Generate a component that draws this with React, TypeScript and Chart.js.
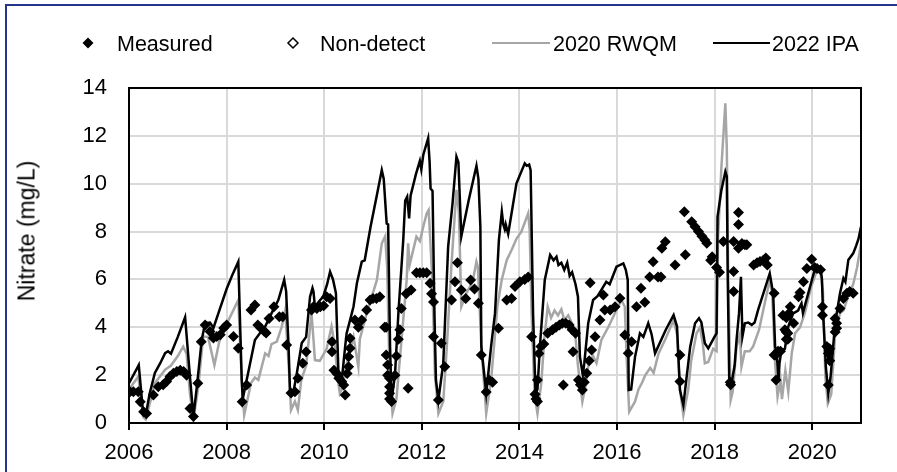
import React, { useEffect, useRef } from 'react';
import { Chart, registerables } from 'chart.js';

Chart.register(...registerables);

// [decimal year, nitrate mg/L]
const ipaSeries: [number, number][] = [
  [2006.0, 1.66], [2006.2, 2.42], [2006.29, 0.4], [2006.34, 0.27], [2006.42, 1.2], [2006.53, 2.09], [2006.64, 2.5], [2006.74, 2.92], [2006.8, 3.0], [2006.86, 2.9], [2007.0, 3.6], [2007.15, 4.42], [2007.25, 1.92], [2007.32, 0.27], [2007.4, 1.7], [2007.49, 3.47], [2007.56, 4.17], [2007.66, 4.2], [2007.73, 3.97], [2007.85, 4.7], [2008.0, 5.6], [2008.12, 6.2], [2008.24, 6.74],
  [2008.31, 1.8], [2008.33, 1.0], [2008.44, 2.08], [2008.58, 3.47], [2008.7, 3.8], [2008.79, 4.03], [2008.92, 4.58], [2009.06, 5.14], [2009.18, 5.98], [2009.22, 5.5], [2009.27, 3.19], [2009.3, 1.25], [2009.37, 1.3], [2009.44, 2.09], [2009.54, 3.34], [2009.63, 3.6], [2009.71, 5.28], [2009.76, 5.64], [2009.78, 5.5], [2009.81, 4.86], [2009.9, 5.1], [2009.98, 5.28],
  [2010.06, 5.8], [2010.12, 6.32], [2010.18, 6.0], [2010.24, 5.43], [2010.29, 2.21], [2010.36, 1.8], [2010.43, 3.2], [2010.46, 3.75], [2010.53, 4.3], [2010.6, 4.86], [2010.67, 5.84], [2010.77, 6.74], [2010.83, 6.8], [2010.95, 8.2], [2011.08, 9.53], [2011.18, 10.57], [2011.22, 10.2], [2011.28, 8.34], [2011.31, 8.3], [2011.35, 3.19], [2011.38, 0.96],
  [2011.45, 2.0], [2011.52, 4.58], [2011.62, 7.65], [2011.66, 9.3], [2011.7, 9.46], [2011.74, 8.55], [2011.77, 9.5], [2011.88, 10.4], [2011.96, 10.95], [2011.99, 10.6], [2012.03, 11.2], [2012.13, 11.9], [2012.16, 10.9], [2012.18, 9.8], [2012.22, 9.7], [2012.26, 4.5], [2012.29, 1.8], [2012.34, 0.96], [2012.44, 2.5], [2012.54, 7.37], [2012.63, 9.18],
  [2012.71, 11.13], [2012.75, 10.9], [2012.81, 7.8], [2012.96, 9.3], [2013.12, 10.75], [2013.16, 10.2], [2013.2, 8.2], [2013.22, 3.19], [2013.32, 1.24], [2013.42, 3.2], [2013.5, 4.58], [2013.58, 7.65], [2013.64, 8.83], [2013.67, 8.3], [2013.7, 8.1], [2013.72, 8.3], [2013.77, 7.9], [2013.94, 10.02], [2014.11, 10.85], [2014.15, 10.75], [2014.2, 10.8], [2014.23, 10.57],
  [2014.28, 4.58], [2014.33, 1.25], [2014.37, 1.4], [2014.42, 3.19], [2014.52, 5.98], [2014.63, 7.02], [2014.7, 6.8], [2014.76, 6.95], [2014.8, 6.6], [2014.86, 6.7], [2014.92, 6.4], [2014.98, 6.7], [2015.03, 6.15], [2015.08, 6.3], [2015.15, 5.8], [2015.2, 5.28], [2015.24, 2.77], [2015.3, 2.0], [2015.33, 2.5],
  [2015.41, 4.17], [2015.51, 5.14], [2015.6, 5.3], [2015.68, 5.56], [2015.78, 5.9], [2015.85, 5.8], [2015.99, 6.53], [2016.13, 6.67], [2016.18, 6.4], [2016.22, 5.98], [2016.24, 1.38], [2016.29, 1.4], [2016.37, 2.77], [2016.47, 3.75], [2016.54, 3.6], [2016.64, 4.17], [2016.71, 3.7], [2016.78, 2.91], [2017.0, 3.9], [2017.16, 4.51], [2017.23, 4.03],
  [2017.29, 1.38], [2017.36, 0.75], [2017.42, 1.8], [2017.5, 3.19], [2017.6, 4.17], [2017.68, 4.38], [2017.73, 4.2], [2017.8, 3.33], [2017.87, 3.12], [2018.0, 3.61], [2018.04, 3.75], [2018.06, 8.62], [2018.14, 9.74], [2018.22, 10.5], [2018.25, 10.3], [2018.27, 5.98], [2018.3, 1.8], [2018.35, 1.7], [2018.41, 2.4], [2018.45, 3.47], [2018.5, 4.58],
  [2018.54, 6.11], [2018.57, 3.61], [2018.62, 4.17], [2018.69, 4.2], [2018.76, 4.1], [2018.82, 4.2], [2018.89, 4.72], [2019.13, 6.25], [2019.2, 5.42], [2019.24, 3.19], [2019.27, 3.0], [2019.31, 1.8], [2019.33, 2.5], [2019.37, 3.05], [2019.44, 3.1], [2019.51, 4.03], [2019.61, 4.58], [2019.71, 4.7], [2019.78, 5.0], [2019.81, 4.6],
  [2020.03, 6.25], [2020.1, 6.53], [2020.17, 6.5], [2020.2, 6.0], [2020.22, 4.72], [2020.28, 2.35], [2020.33, 1.24], [2020.38, 2.0], [2020.47, 4.17], [2020.57, 5.42], [2020.64, 6.05], [2020.68, 5.9], [2020.74, 6.81], [2020.84, 7.09], [2020.9, 7.4], [2020.95, 7.7], [2021.0, 8.2],
];

const rwqmSeries: [number, number][] = [
  [2006.0, 1.4], [2006.19, 1.94], [2006.29, 0.25], [2006.34, 0.15], [2006.45, 1.0], [2006.53, 1.67], [2006.74, 2.23], [2006.86, 2.4], [2007.0, 2.8], [2007.11, 3.19], [2007.18, 2.9], [2007.25, 1.2], [2007.32, 0.15], [2007.42, 1.5], [2007.52, 3.61], [2007.62, 3.6], [2007.75, 2.42], [2007.85, 3.4], [2008.04, 4.3], [2008.24, 5.14],
  [2008.31, 1.8], [2008.36, 0.33], [2008.42, 0.9], [2008.5, 1.67], [2008.58, 1.9], [2008.65, 1.8], [2008.79, 2.91], [2008.86, 2.8], [2008.92, 3.3], [2009.03, 3.4], [2009.13, 4.03], [2009.2, 4.7], [2009.27, 2.5], [2009.32, 0.54], [2009.4, 0.9], [2009.46, 0.54], [2009.53, 1.8], [2009.63, 2.4], [2009.74, 4.58], [2009.78, 3.5], [2009.81, 2.63], [2009.91, 2.6],
  [2010.05, 3.1], [2010.15, 4.03], [2010.22, 3.2], [2010.28, 1.8], [2010.32, 1.24], [2010.38, 1.5], [2010.45, 2.4], [2010.6, 3.6], [2010.7, 2.35], [2010.73, 3.5], [2010.87, 4.58], [2011.08, 5.98], [2011.18, 7.51], [2011.25, 7.8], [2011.29, 6.5], [2011.34, 2.0], [2011.4, 0.4], [2011.48, 1.0], [2011.59, 3.6], [2011.69, 5.98], [2011.72, 7.51], [2011.75, 6.6],
  [2011.89, 7.79], [2011.96, 7.6], [2012.03, 8.2], [2012.1, 8.76], [2012.14, 8.9], [2012.17, 7.8], [2012.21, 6.2], [2012.27, 2.0], [2012.34, 0.4], [2012.44, 0.9], [2012.51, 3.1], [2012.61, 6.67], [2012.71, 9.74], [2012.76, 8.8], [2012.81, 4.86], [2012.91, 5.4], [2013.04, 5.9], [2013.12, 6.74], [2013.15, 6.5], [2013.22, 3.2], [2013.32, 0.4],
  [2013.42, 1.8], [2013.48, 3.2], [2013.55, 4.9], [2013.64, 6.0], [2013.74, 6.8], [2013.84, 7.23], [2013.94, 7.7], [2014.04, 8.0], [2014.18, 8.76], [2014.21, 8.1], [2014.25, 4.58], [2014.31, 1.2], [2014.37, 0.4], [2014.45, 1.7], [2014.51, 3.5], [2014.58, 4.86], [2014.65, 4.4], [2014.72, 4.7], [2014.79, 4.5], [2014.86, 4.75], [2014.92, 4.3],
  [2015.0, 4.5], [2015.07, 4.2], [2015.14, 3.8], [2015.2, 2.4], [2015.29, 0.89], [2015.35, 1.5], [2015.42, 2.5], [2015.51, 2.8], [2015.58, 2.5], [2015.68, 3.47], [2015.82, 4.0], [2015.96, 4.6], [2016.09, 5.14], [2016.16, 4.86], [2016.2, 2.6], [2016.25, 0.47], [2016.37, 0.9], [2016.44, 1.4], [2016.51, 1.67], [2016.58, 2.0], [2016.68, 2.3], [2016.75, 2.1],
  [2016.85, 2.9], [2016.99, 3.5], [2017.16, 4.3], [2017.23, 3.7], [2017.29, 1.4], [2017.36, 0.33], [2017.46, 1.4], [2017.52, 2.6], [2017.63, 3.75], [2017.7, 4.0], [2017.76, 3.3], [2017.8, 2.5], [2017.87, 2.55], [2017.97, 3.1], [2018.04, 3.0], [2018.07, 7.7], [2018.14, 10.71], [2018.22, 13.36], [2018.25, 11.5], [2018.28, 5.98], [2018.33, 0.96],
  [2018.37, 1.3], [2018.41, 2.2], [2018.45, 3.2], [2018.52, 3.7], [2018.55, 2.35], [2018.62, 3.0], [2018.72, 3.0], [2018.79, 3.2], [2018.91, 3.89], [2019.13, 5.98], [2019.18, 5.4], [2019.24, 2.5], [2019.29, 1.1], [2019.35, 1.8], [2019.38, 1.0], [2019.45, 2.2], [2019.51, 1.3], [2019.58, 2.9], [2019.65, 3.75], [2019.75, 4.0], [2019.85, 4.6],
  [2019.98, 5.7], [2020.1, 6.39], [2020.17, 6.3], [2020.22, 5.5], [2020.27, 1.9], [2020.32, 0.82], [2020.39, 1.2], [2020.47, 3.7], [2020.57, 4.6], [2020.64, 4.7], [2020.74, 5.3], [2020.84, 5.8], [2020.92, 6.5], [2021.0, 7.5],
];

const measuredSeries: [number, number][] = [
  [2006.02, 1.31], [2006.09, 1.31], [2006.19, 1.31], [2006.23, 0.89], [2006.3, 0.47], [2006.36, 0.4], [2006.5, 1.17], [2006.6, 1.52], [2006.7, 1.6], [2006.77, 1.73], [2006.84, 1.94], [2006.91, 2.08], [2006.98, 2.15], [2007.05, 2.2], [2007.12, 2.15], [2007.18, 2.0], [2007.25, 0.61], [2007.32, 0.27], [2007.41, 1.66], [2007.48, 3.4], [2007.56, 4.1],
  [2007.66, 3.82], [2007.73, 3.55], [2007.8, 3.62], [2007.87, 3.69], [2007.94, 3.97], [2008.0, 4.1], [2008.14, 3.61], [2008.24, 3.12], [2008.32, 0.89], [2008.41, 1.59], [2008.5, 4.72], [2008.58, 4.93], [2008.64, 4.1], [2008.7, 3.97], [2008.77, 3.83], [2008.81, 3.76], [2008.87, 4.37], [2008.97, 4.86], [2009.08, 4.44], [2009.15, 4.44],
  [2009.23, 3.26], [2009.32, 1.25], [2009.4, 1.31], [2009.46, 1.87], [2009.56, 2.5], [2009.63, 2.98], [2009.74, 4.72], [2009.78, 4.86], [2009.85, 4.79], [2009.92, 4.86], [2009.99, 4.9], [2010.05, 5.28], [2010.12, 5.2], [2010.16, 3.4], [2010.16, 2.98], [2010.2, 2.2], [2010.26, 2.07], [2010.3, 1.87], [2010.36, 1.73], [2010.4, 1.59], [2010.43, 1.17],
  [2010.47, 2.07], [2010.5, 2.35], [2010.5, 2.77], [2010.53, 3.12], [2010.53, 3.54], [2010.63, 4.3], [2010.7, 4.0], [2010.77, 4.3], [2010.87, 4.72], [2010.94, 5.14], [2011.0, 5.2], [2011.07, 5.2], [2011.14, 5.28], [2011.24, 4.0], [2011.27, 4.0], [2011.27, 2.84], [2011.3, 2.42], [2011.3, 2.0], [2011.34, 1.87], [2011.34, 1.52], [2011.34, 1.24],
  [2011.34, 1.0], [2011.38, 0.9], [2011.45, 2.0], [2011.48, 2.8], [2011.52, 3.5], [2011.55, 3.9], [2011.58, 4.79], [2011.68, 5.4], [2011.78, 5.56], [2011.72, 1.45], [2011.89, 6.28], [2011.96, 6.28], [2012.03, 6.28], [2012.1, 6.28], [2012.17, 5.84], [2012.2, 5.4], [2012.24, 5.06], [2012.24, 3.6], [2012.4, 3.33], [2012.34, 0.96], [2012.47, 2.35],
  [2012.61, 5.14], [2012.68, 5.9], [2012.73, 6.7], [2012.81, 5.56], [2012.9, 5.2], [2013.0, 5.98], [2013.08, 5.6], [2013.16, 5.0], [2013.22, 2.84], [2013.32, 1.3], [2013.38, 1.8], [2013.45, 1.7], [2013.57, 3.96], [2013.74, 5.14], [2013.84, 5.2], [2013.91, 5.7], [2014.01, 5.9], [2014.11, 6.0], [2014.18, 6.1], [2014.25, 3.6],
  [2014.32, 1.2], [2014.34, 1.0], [2014.37, 0.9], [2014.37, 1.8], [2014.4, 2.9], [2014.44, 3.2], [2014.5, 3.3], [2014.58, 3.75], [2014.68, 3.9], [2014.75, 4.0], [2014.82, 4.1], [2014.88, 4.17], [2014.95, 4.17], [2015.02, 4.1], [2015.08, 3.9], [2015.15, 3.75], [2015.1, 2.98], [2014.9, 1.59], [2015.21, 1.8], [2015.25, 1.6], [2015.29, 1.38],
  [2015.33, 1.7], [2015.38, 2.08], [2015.43, 2.6], [2015.48, 3.05], [2015.55, 3.6], [2015.65, 4.3], [2015.75, 4.72], [2015.86, 4.72], [2015.96, 4.86], [2016.06, 5.21], [2015.45, 5.86], [2015.72, 5.35], [2016.16, 3.68], [2016.23, 2.92], [2016.3, 3.4], [2016.4, 4.86], [2016.57, 5.05], [2016.49, 5.63], [2016.67, 6.1], [2016.84, 6.1],
  [2016.9, 6.1], [2016.74, 6.74], [2016.92, 7.3], [2016.99, 7.57], [2017.19, 6.6], [2017.38, 8.83], [2017.29, 2.84], [2017.29, 1.73], [2017.4, 7.03], [2017.53, 8.41], [2017.6, 8.2], [2017.67, 8.0], [2017.74, 7.8], [2017.8, 7.65], [2017.84, 7.51], [2017.92, 6.8], [2017.95, 6.95], [2018.04, 6.5], [2018.1, 6.3], [2018.18, 7.58],
  [2018.39, 7.58], [2018.39, 6.33], [2018.39, 5.5], [2018.32, 1.7], [2018.33, 1.6], [2018.49, 8.8], [2018.49, 8.3], [2018.49, 7.3], [2018.56, 7.5], [2018.62, 7.45], [2018.66, 7.45], [2018.8, 6.6], [2018.87, 6.7], [2018.93, 6.75], [2019.0, 6.8], [2019.05, 6.9], [2019.08, 6.6], [2019.22, 5.42], [2019.22, 2.84], [2019.25, 2.84],
  [2019.3, 3.0], [2019.26, 1.8], [2019.35, 3.0], [2019.44, 3.9], [2019.47, 3.8], [2019.47, 3.5], [2019.5, 3.75], [2019.5, 3.5], [2019.4, 4.5], [2019.47, 4.4], [2019.53, 4.6], [2019.55, 4.86], [2019.62, 4.17], [2019.72, 5.28], [2019.75, 5.45], [2019.82, 5.9], [2019.89, 6.46], [2019.99, 6.84], [2020.05, 6.5], [2020.1, 6.46],
  [2020.17, 6.4], [2020.21, 4.86], [2020.21, 4.5], [2020.3, 3.2], [2020.33, 2.9], [2020.36, 2.6], [2020.36, 3.1], [2020.33, 1.59], [2020.47, 4.37], [2020.5, 4.17], [2020.5, 3.96], [2020.47, 3.8], [2020.57, 4.79], [2020.64, 5.2], [2020.71, 5.42], [2020.77, 5.5], [2020.84, 5.42],
];

const nonDetectSeries: [number, number][] = [];

const legendLabels = ['Measured', 'Non-detect', '2020 RWQM', '2022 IPA'];
const yAxisTitle = 'Nitrate (mg/L)';
const xRange = [2006, 2021];
const yRange = [0, 14];

const FONT = "'Liberation Sans', Arial, Helvetica, sans-serif";

const toPoints = (s: [number, number][]) => s.map(([x, y]) => ({ x, y }));

export default function App() {
  const ref = useRef<HTMLCanvasElement>(null);

  useEffect(() => {
    if (!ref.current) return;
    const borderPlugin = {
      id: 'plotBorder',
      afterDraw(chart: any) {
        const { ctx, chartArea: a } = chart;
        ctx.save();
        ctx.strokeStyle = '#000';
        ctx.lineWidth = 2;
        ctx.strokeRect(a.left, a.top, a.right - a.left, a.bottom - a.top);
        ctx.restore();
      },
    };
    const chart = new Chart(ref.current, {
      type: 'scatter',
      data: {
        datasets: [
          {
            label: legendLabels[0],
            data: toPoints(measuredSeries),
            showLine: false,
            pointStyle: 'rectRot',
            pointRadius: 5.5,
            backgroundColor: '#000',
            borderColor: '#000',
            borderWidth: 0,
          },
          {
            label: legendLabels[1],
            data: toPoints(nonDetectSeries),
            showLine: false,
            pointStyle: 'rectRot',
            pointRadius: 5.5,
            backgroundColor: '#fff',
            borderColor: '#000',
            borderWidth: 1.5,
          },
          {
            label: legendLabels[3],
            data: toPoints(ipaSeries),
            showLine: true,
            pointRadius: 0,
            borderColor: '#000',
            borderWidth: 2.5,
            tension: 0,
          },
          {
            label: legendLabels[2],
            data: toPoints(rwqmSeries),
            showLine: true,
            pointRadius: 0,
            borderColor: '#a6a6a6',
            borderWidth: 2.5,
            tension: 0,
          },
        ],
      },
      options: {
        animation: false,
        responsive: false,
        devicePixelRatio: 1,
        layout: { padding: { top: 88, right: 36, left: 0, bottom: 0 } },
        plugins: { legend: { display: false }, tooltip: { enabled: false } },
        scales: {
          x: {
            type: 'linear',
            min: xRange[0],
            max: xRange[1],
            grid: { color: '#d9d9d9', lineWidth: 2, tickColor: '#000', tickLength: 7, drawTicks: true },
            border: { display: false },
            ticks: {
              stepSize: 2,
              includeBounds: false,
              autoSkip: false,
              maxRotation: 0,
              padding: 10,
              color: '#000',
              font: { family: FONT, size: 22 },
              callback: (v: any) => String(v),
            },
            afterFit: (s: any) => { s.height = 49; },
          },
          y: {
            type: 'linear',
            min: yRange[0],
            max: yRange[1],
            grid: { color: '#d9d9d9', lineWidth: 2, drawTicks: false },
            border: { display: false },
            ticks: {
              stepSize: 2,
              padding: 22,
              color: '#000',
              font: { family: FONT, size: 22 },
              callback: (v: any) => String(v),
            },
            afterFit: (s: any) => { s.width = 129; },
          },
        },
      },
      plugins: [borderPlugin],
    } as any);
    return () => chart.destroy();
  }, []);

  const textStyle: React.CSSProperties = {
    position: 'absolute',
    top: 34,
    fontFamily: FONT,
    fontSize: 21.5,
    lineHeight: '21.5px',
    color: '#000',
    whiteSpace: 'nowrap',
  };

  return (
    <div style={{ position: 'absolute', left: 0, top: 0, width: 897, height: 472, background: '#fff', overflow: 'hidden' }}>
      <div style={{ position: 'absolute', left: 5, top: 4, width: 1000, height: 1000, border: '2px solid #26358c' }} />
      <canvas ref={ref} width={897} height={472} style={{ position: 'absolute', left: 0, top: 0, width: 897, height: 472 }} />
      <div
        style={{
          position: 'absolute',
          left: 27,
          top: 231,
          transform: 'translate(-50%, -50%) rotate(-90deg)',
          fontFamily: FONT,
          fontSize: 23,
          lineHeight: '23px',
          color: '#000',
          whiteSpace: 'nowrap',
        }}
      >
        {yAxisTitle}
      </div>
      <svg style={{ position: 'absolute', left: 0, top: 0 }} width={897} height={80}>
        <polygon points="88,37.5 93.5,43 88,48.5 82.5,43" fill="#000" />
        <polygon points="293,38 298,43 293,48 288,43" fill="#fff" stroke="#000" strokeWidth={1.5} />
        <line x1={492} y1={43} x2={550} y2={43} stroke="#a6a6a6" strokeWidth={2} />
        <line x1={713} y1={43} x2={770} y2={43} stroke="#000" strokeWidth={2} />
      </svg>
      <div style={{ ...textStyle, left: 117 }}>{legendLabels[0]}</div>
      <div style={{ ...textStyle, left: 320 }}>{legendLabels[1]}</div>
      <div style={{ ...textStyle, left: 553 }}>{legendLabels[2]}</div>
      <div style={{ ...textStyle, left: 772 }}>{legendLabels[3]}</div>
    </div>
  );
}
